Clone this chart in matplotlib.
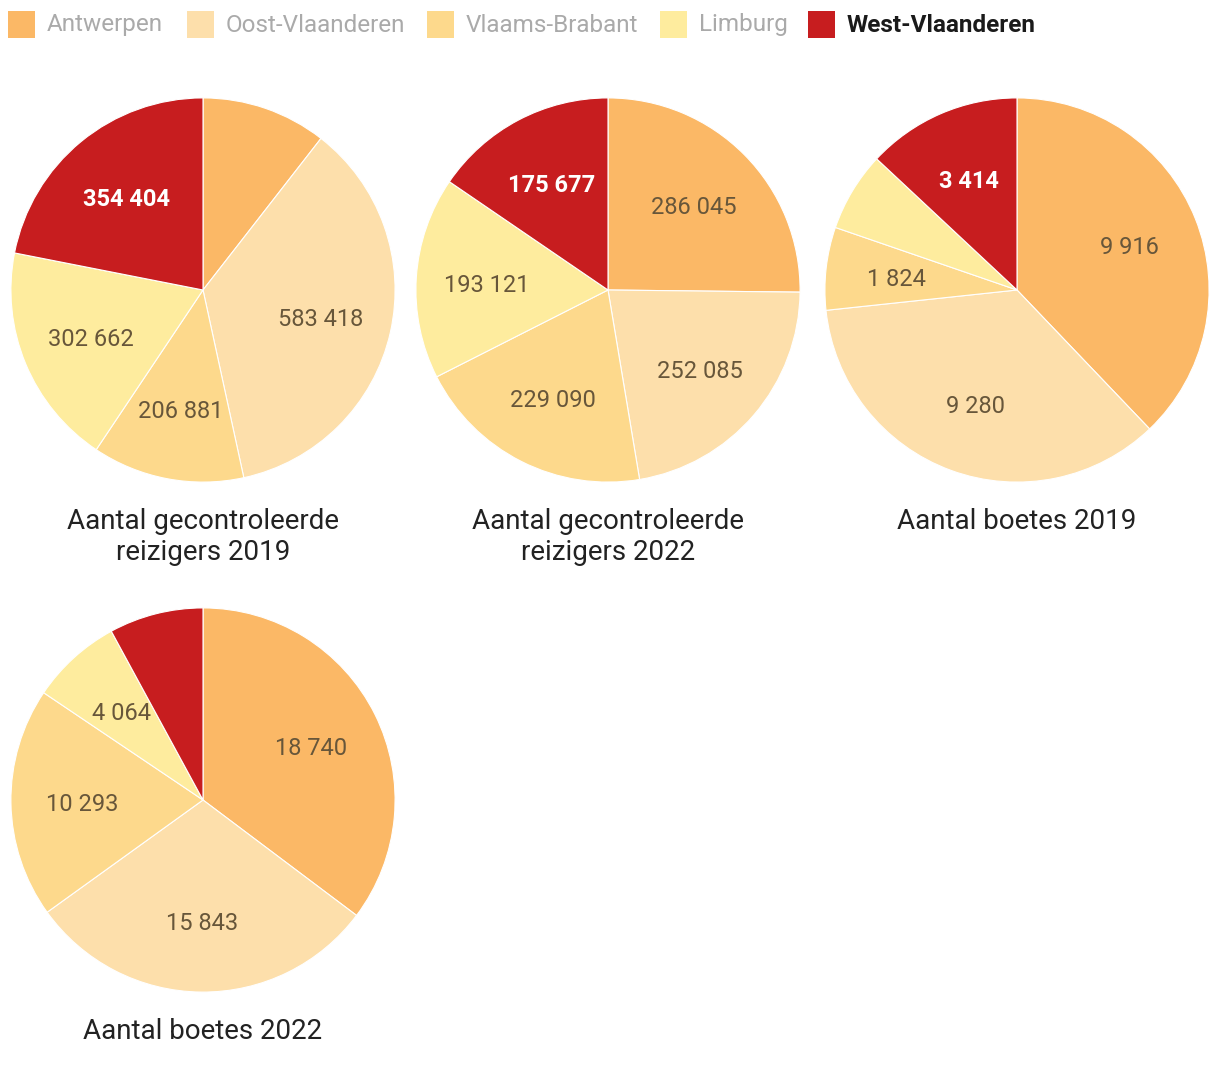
import matplotlib
matplotlib.use("Agg")
import numpy as np
import matplotlib.pyplot as plt
from matplotlib.patches import Rectangle

plt.rcParams['font.family'] = ['Roboto', 'DejaVu Sans']

provinces = ['Antwerpen', 'Oost-Vlaanderen', 'Vlaams-Brabant', 'Limburg', 'West-Vlaanderen']
colors = ['#fbb866', '#fddfab', '#fdd98c', '#feec9e', '#c71d1f']

titles = ['Aantal gecontroleerde\nreizigers 2019', 'Aantal gecontroleerde\nreizigers 2022',
          'Aantal boetes 2019', 'Aantal boetes 2022']
reizigers_2019 = [170300, 583418, 206881, 302662, 354404]
reizigers_2022 = [286045, 252085, 229090, 193121, 175677]
boetes_2019 = [9916, 9280, 1824, 1750, 3414]
boetes_2022 = [18740, 15843, 10293, 4064, 4210]
# slices whose label is not shown in the original
hidden = [['Antwerpen'], [], ['Limburg'], ['West-Vlaanderen']]

W, H = 1220, 1076
R = 192
centers = [(203, 290), (608, 290), (1017, 290), (203, 800)]

fig = plt.figure(figsize=(W / 100, H / 100), dpi=100)

def fmt(v):
    return f"{v:,}".replace(",", " ")

series = [reizigers_2019, reizigers_2022, boetes_2019, boetes_2022]
for vals, title, (cx, cy), hide in zip(series, titles, centers, hidden):
    ax = fig.add_axes([(cx - R - 2) / W, 1 - (cy + R + 2) / H, (2 * R + 4) / W, (2 * R + 4) / H])
    wedges, _ = ax.pie(vals, colors=colors, startangle=90, counterclock=False, radius=1,
                       wedgeprops=dict(edgecolor='white', linewidth=0.8))
    ax.set_xlim(-1.01, 1.01)
    ax.set_ylim(-1.01, 1.01)
    ax.set_aspect('equal')
    ax.axis('off')
    for w, v, name in zip(wedges, vals, provinces):
        if name in hide:
            continue
        ang = np.deg2rad((w.theta1 + w.theta2) / 2)
        x, y = 0.63 * np.cos(ang), 0.63 * np.sin(ang) - 0.015
        if name == 'West-Vlaanderen':
            ax.text(x, y, fmt(v), ha='center', va='center', fontsize=17, color='white',
                    fontweight='bold')
        else:
            ax.text(x, y, fmt(v), ha='center', va='center', fontsize=17, color='#67563a')
    fig.text(cx / W, 1 - (cy + R + 26) / H, title, ha='center', va='top', fontsize=20,
             color='#222222', linespacing=1.2)

# legend
sq_x = [8, 187, 427, 660, 808]
for x0, name, c in zip(sq_x, provinces, colors):
    fig.patches.append(Rectangle((x0 / W, 1 - 38 / H), 27 / W, 27 / H, transform=fig.transFigure,
                                 facecolor=c, edgecolor='none'))
    if name == 'West-Vlaanderen':
        fig.text((x0 + 39) / W, 1 - 25 / H, name, ha='left', va='center', fontsize=17.5,
                 fontweight='bold', color='#1a1a1a')
    else:
        fig.text((x0 + 39) / W, 1 - 25 / H, name, ha='left', va='center', fontsize=17.5,
                 color='#aaaaaa')

fig.savefig('out.png', dpi=100, facecolor='white')
